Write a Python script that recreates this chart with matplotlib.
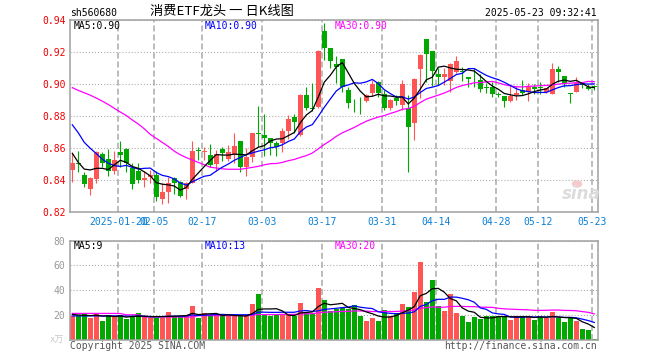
import matplotlib
matplotlib.use('Agg')
import matplotlib.pyplot as plt
import numpy as np

plt.rcParams['lines.scale_dashes'] = False

# ---------------- data ----------------
date_ticks = [8, 14, 22, 32, 42, 52, 61, 71, 78, 87]
date_labels = ["2025-01-20", "02-05", "02-17", "03-03", "03-17", "03-31",
               "04-14", "04-28", "05-12", "05-23"]

opens = [0.8463, 0.8508, 0.8431, 0.8342, 0.8405, 0.8560, 0.8529, 0.8458, 0.8573, 0.8594,
         0.8477, 0.8458, 0.8400, 0.8417, 0.8431, 0.8279, 0.8327, 0.8410, 0.8385, 0.8342,
         0.8383, 0.8585, 0.8577, 0.8556, 0.8498, 0.8596, 0.8531, 0.8556, 0.8644, 0.8483,
         0.8546, 0.8696, 0.8681, 0.8660, 0.8629, 0.8633, 0.8708, 0.8792, 0.8681, 0.8931,
         0.8850, 0.8854, 0.9331, 0.9227, 0.9125, 0.9154, 0.8963, 0.8902, 0.8908, 0.8896,
         0.8946, 0.9010, 0.8938, 0.8848, 0.8915, 0.8870, 0.8848, 0.8758, 0.9094, 0.9281,
         0.9206, 0.9063, 0.9046, 0.9020, 0.9077, 0.9083, 0.9042, 0.9033, 0.9025, 0.8983,
         0.8983, 0.8935, 0.8925, 0.8896, 0.8931, 0.8963, 0.8952, 0.8979, 0.8983, 0.8952,
         0.8938, 0.9094, 0.9052, 0.8946, 0.8952, 0.9004, 0.8979, 0.8985]
highs = [0.8567, 0.8580, 0.8452, 0.8421, 0.8581, 0.8573, 0.8592, 0.8583, 0.8642, 0.8600,
         0.8508, 0.8504, 0.8458, 0.8463, 0.8458, 0.8379, 0.8417, 0.8417, 0.8394, 0.8390,
         0.8646, 0.8604, 0.8604, 0.8625, 0.8588, 0.8604, 0.8617, 0.8694, 0.8644, 0.8598,
         0.8696, 0.8865, 0.8813, 0.8660, 0.8642, 0.8727, 0.8806, 0.8810, 0.8940, 0.8983,
         0.9004, 0.9210, 0.9379, 0.9227, 0.9175, 0.9154, 0.8983, 0.8906, 0.8917, 0.8938,
         0.9025, 0.9019, 0.8963, 0.8906, 0.8931, 0.9025, 0.8931, 0.9035, 0.9187, 0.9281,
         0.9206, 0.9098, 0.9098, 0.9129, 0.9175, 0.9108, 0.9042, 0.9098, 0.9063, 0.9004,
         0.9015, 0.8950, 0.8925, 0.8988, 0.8988, 0.9025, 0.9004, 0.8998, 0.9015, 0.8977,
         0.9133, 0.9115, 0.9052, 0.8946, 0.9042, 0.9015, 0.8998, 0.8994]
lows = [0.8390, 0.8452, 0.8358, 0.8306, 0.8383, 0.8479, 0.8425, 0.8438, 0.8483, 0.8452,
        0.8342, 0.8383, 0.8358, 0.8379, 0.8269, 0.8248, 0.8258, 0.8310, 0.8296, 0.8279,
        0.8379, 0.8525, 0.8525, 0.8483, 0.8458, 0.8521, 0.8521, 0.8504, 0.8452, 0.8427,
        0.8510, 0.8604, 0.8552, 0.8556, 0.8550, 0.8577, 0.8656, 0.8692, 0.8675, 0.8838,
        0.8833, 0.8850, 0.9150, 0.9098, 0.9004, 0.8952, 0.8848, 0.8827, 0.8810, 0.8890,
        0.8925, 0.8921, 0.8838, 0.8838, 0.8869, 0.8840, 0.8452, 0.8650, 0.8910, 0.9010,
        0.8990, 0.8994, 0.8994, 0.8952, 0.9071, 0.9020, 0.8979, 0.8979, 0.8952, 0.8946,
        0.8921, 0.8921, 0.8858, 0.8890, 0.8900, 0.8931, 0.8896, 0.8938, 0.8938, 0.8942,
        0.8935, 0.9015, 0.8983, 0.8879, 0.8950, 0.8977, 0.8963, 0.8965]
closes = [0.8504, 0.8498, 0.8375, 0.8415, 0.8573, 0.8504, 0.8458, 0.8525, 0.8556, 0.8508,
          0.8375, 0.8400, 0.8415, 0.8431, 0.8296, 0.8327, 0.8379, 0.8379, 0.8302, 0.8379,
          0.8581, 0.8579, 0.8581, 0.8494, 0.8560, 0.8567, 0.8575, 0.8613, 0.8483, 0.8546,
          0.8696, 0.8685, 0.8665, 0.8629, 0.8604, 0.8706, 0.8781, 0.8765, 0.8931, 0.8848,
          0.8846, 0.9206, 0.9227, 0.9146, 0.9108, 0.8983, 0.8883, 0.8898, 0.8904, 0.8931,
          0.9000, 0.8946, 0.8848, 0.8900, 0.8896, 0.9000, 0.8733, 0.9031, 0.9181, 0.9185,
          0.9083, 0.9046, 0.9063, 0.9125, 0.9144, 0.9075, 0.9031, 0.9029, 0.8967, 0.8977,
          0.8935, 0.8929, 0.8896, 0.8925, 0.8942, 0.8946, 0.8983, 0.8967, 0.8975, 0.8973,
          0.9094, 0.9077, 0.9004, 0.8935, 0.9004, 0.8996, 0.8971, 0.8979]
volumes = [19.5, 19.4, 21.4, 17.9, 21.4, 15.5, 20.2, 18.9, 20.2, 16.7,
           18.3, 21.4, 18.9, 17.3, 17.9, 17.9, 22.4, 19.5, 18.9, 18.9,
           27.3, 17.3, 21.4, 20.2, 20.2, 18.9, 20.2, 18.9, 18.9, 18.9,
           28.9, 37.0, 20.8, 18.9, 20.0, 20.0, 20.0, 18.9, 29.5, 22.0,
           22.0, 41.8, 32.1, 23.5, 24.6, 25.3, 24.8, 28.1, 18.9, 15.5,
           17.9, 15.5, 24.1, 18.9, 21.5, 29.0, 26.2, 38.6, 62.8, 30.5,
           48.3, 27.3, 23.3, 37.0, 21.6, 19.5, 14.4, 18.6, 17.0, 18.9,
           19.5, 19.5, 18.9, 16.1, 18.9, 19.5, 19.5, 16.1, 18.3, 17.5,
           22.7, 17.2, 14.4, 17.2, 15.2, 8.7, 8.1, 0.6]

# moving-average values before enough in-window data exists
ma5_head = [0.8567, 0.8510, 0.8468, 0.8463]
ma10_head = [0.8745, 0.8695, 0.8635, 0.8598, 0.8565, 0.8530, 0.8505, 0.8490, 0.8485]
ma30_head = [0.8977, 0.8960, 0.8945, 0.8930, 0.8912, 0.8893, 0.8872, 0.8848, 0.8825, 0.8803,
             0.8775, 0.8750, 0.8720, 0.8685, 0.8660, 0.8635, 0.8610, 0.8580, 0.8558, 0.8540,
             0.8525, 0.8510, 0.8495, 0.8480, 0.8475, 0.8470, 0.8467, 0.8467, 0.8467]
vma5_head = [20.5, 20.0, 19.8, 19.5]
vma10_head = [19.3, 19.3, 19.3, 19.3, 19.3, 19.3, 19.3, 19.3, 19.3]
vma30_head = [21.3, 21.3, 21.3, 21.3, 21.3, 21.3, 21.3, 21.3, 21.2, 20.2,
              20.2, 20.2, 18.4, 18.4, 18.4, 18.4, 18.4, 18.4, 18.4, 18.4,
              18.4, 19.5, 19.5, 19.5, 19.5, 19.5, 19.5, 19.5, 19.5]


def moving_avg(vals, n, head):
    out = list(head)
    for i in range(len(head), len(vals)):
        out.append(float(np.mean(vals[i - n + 1:i + 1])))
    return np.array(out)


opens = np.array(opens); highs = np.array(highs)
lows = np.array(lows); closes = np.array(closes)
volumes = np.array(volumes)
n = len(closes)
x = np.arange(n)

ma5 = moving_avg(closes, 5, ma5_head)
ma10 = moving_avg(closes, 10, ma10_head)
ma30 = moving_avg(closes, 30, ma30_head)
vma5 = moving_avg(volumes, 5, vma5_head)
vma10 = moving_avg(volumes, 10, vma10_head)
vma30 = moving_avg(volumes, 30, vma30_head)

# ---------------- style ----------------
RED = '#ff5555'
GREEN = '#00a800'
BLUE = '#0000ff'
MAG = '#ff00ff'
DATEBLUE = '#0a7fd4'
GRID = '#aaaaaa'
FRAME = '#a0a0a0'
MONO = 'DejaVu Sans Mono'
FS = 7

W, H = 660, 360
fig = plt.figure(figsize=(W / 100, H / 100), dpi=100)
ax = fig.add_axes([70 / W, 1 - 212 / H, 527.7 / W, 192 / H])
axv = fig.add_axes([70 / W, 1 - 339.8 / H, 527.7 / W, 99.1 / H])

up = closes >= opens
cols = np.where(up, RED, GREEN)

xgrid = np.array(date_ticks) - 0.3
for a in (ax, axv):
    a.set_xlim(-0.383, n - 1 + 0.57)
    a.set_axisbelow(True)
    for s in a.spines.values():
        s.set_color(FRAME)
        s.set_linewidth(1.1)
    a.set_xticks(xgrid)
    a.grid(axis='x', color=GRID, linestyle=(0, (4.3, 2.2)), linewidth=1.1)
    a.grid(axis='y', color='#a8a8a8', linestyle=(0, (0.75, 1.45)), linewidth=0.75)

# candles
ax.vlines(x, lows, highs, colors=cols, linewidth=0.8)
body_bottom = np.minimum(opens, closes)
body_h = np.maximum(np.abs(closes - opens), 0.00035)
ax.bar(x, body_h, bottom=body_bottom, width=0.8, color=cols, linewidth=0)
ax.plot(x, ma30, color=MAG, lw=0.9)
ax.plot(x, ma10, color=BLUE, lw=0.9)
ax.plot(x, ma5, color='black', lw=0.9)

ax.set_ylim(0.82, 0.94)
yt = [0.82, 0.84, 0.86, 0.88, 0.90, 0.92, 0.94]
ax.set_yticks(yt)
ax.set_yticklabels([f"{v:.2f}" for v in yt], fontfamily=MONO, fontsize=FS, color='#ee0000')
ax.tick_params(axis='y', length=0, pad=3.2)
ax.set_xticklabels(date_labels, fontfamily=MONO, fontsize=FS, color=DATEBLUE)
ax.tick_params(axis='x', length=0, pad=3.5)

# volume
axv.bar(x, volumes, width=0.8, color=cols, linewidth=0)
axv.plot(x, vma30, color=MAG, lw=0.9)
axv.plot(x, vma10, color=BLUE, lw=0.9)
axv.plot(x, vma5, color='black', lw=0.9)
axv.set_ylim(0, 80)
vt = [20, 40, 60, 80]
axv.set_yticks(vt)
axv.set_yticklabels([str(v) for v in vt], fontfamily=MONO, fontsize=FS, color='#999999')
axv.tick_params(axis='y', length=0, pad=3.2)
axv.tick_params(axis='x', length=0, labelbottom=False)


def ftext(px, py, s, **kw):
    fig.text(px / W, 1 - py / H, s, **kw)


# header
ftext(70, 13, "sh560680", fontfamily=MONO, fontsize=FS, va='center', ha='left')
ftext(222, 11.5, "消费ETF龙头 一 日K线图", fontfamily=['Noto Sans CJK SC', 'DejaVu Sans'],
      fontsize=9.5, va='center', ha='center')
ftext(597, 13, "2025-05-23 09:32:41", fontfamily=MONO, fontsize=FS, va='center', ha='right')

# legends
ftext(74, 26, f"MA5:{ma5[-1]:.2f}", fontfamily=MONO, fontsize=FS, va='center', color='black')
ftext(204.5, 26, f"MA10:{ma10[-1]:.2f}", fontfamily=MONO, fontsize=FS, va='center', color=BLUE)
ftext(334.5, 26, f"MA30:{ma30[-1]:.2f}", fontfamily=MONO, fontsize=FS, va='center', color=MAG)
ftext(74, 246, f"MA5:{int(vma5[-1])}", fontfamily=MONO, fontsize=FS, va='center', color='black')
ftext(204.5, 246, f"MA10:{int(vma10[-1])}", fontfamily=MONO, fontsize=FS, va='center', color=BLUE)
ftext(334.5, 246, f"MA30:{int(vma30[-1])}", fontfamily=MONO, fontsize=FS, va='center', color=MAG)

# footer
ftext(64, 340.5, "x万", fontfamily=[MONO, 'Noto Sans CJK SC'], fontsize=6.5, va='center',
      ha='right', color='#c8c8c8')
ftext(70, 346, "Copyright 2025 SINA.COM", fontfamily=MONO, fontsize=FS, va='center',
      ha='left', color='#555555')
ftext(597, 346, "http://finance.sina.com.cn", fontfamily=MONO, fontsize=FS, va='center',
      ha='right', color='#555555')

# sina watermark
ftext(581, 194, "sina", fontfamily='DejaVu Sans', fontsize=12, fontweight='bold',
      style='italic', va='center', ha='center', color='#dcdcdc')
fig.patches.append(matplotlib.patches.Ellipse((577 / W, 1 - 184 / H), 9 / W, 6 / H,
                                              transform=fig.transFigure, color='#f6caca'))

fig.savefig('out.png', dpi=100)
